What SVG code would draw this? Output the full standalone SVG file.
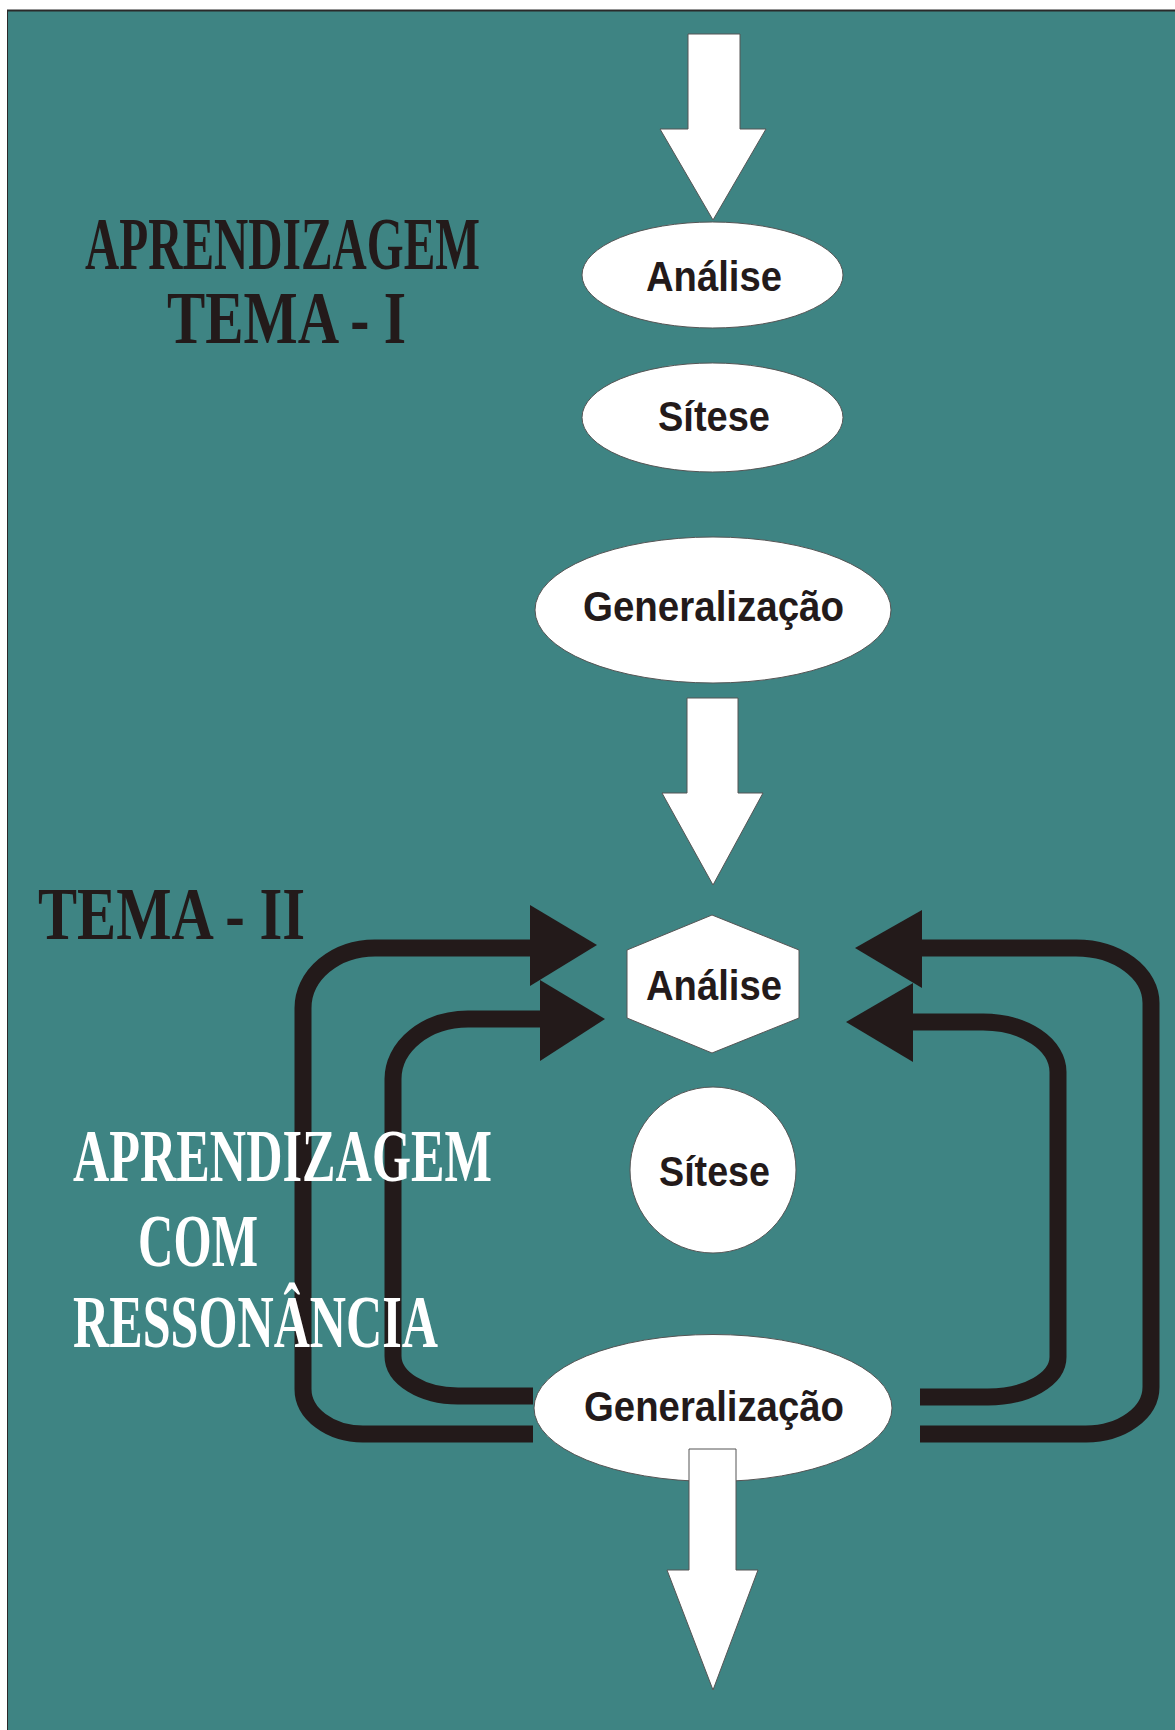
<svg xmlns="http://www.w3.org/2000/svg" width="1175" height="1730" viewBox="0 0 1175 1730">
<style>
.bg{fill:#3e8483;stroke:#2a2a2a;stroke-width:1}
.node{fill:#ffffff;stroke:#555555;stroke-width:1}
.arrow{fill:#ffffff;stroke:#555555;stroke-width:1}
.lbl{font-family:"Liberation Sans",Arial,sans-serif;font-weight:bold;font-size:43px;fill:#231a1a;text-anchor:middle}
.title{font-family:"Liberation Serif","Times New Roman",serif;font-weight:bold;font-size:75px;fill:#231a1a}
.title2{font-family:"Liberation Serif","Times New Roman",serif;font-weight:bold;font-size:75px;fill:#ffffff}
.loop{fill:none;stroke:#231a1a;stroke-width:17}
.head{fill:#231a1a}
</style>
<rect width="1175" height="1730" fill="#ffffff"/>
<rect class="bg" x="7.5" y="10.5" width="1175" height="1730"/>
<line x1="7" y1="10.5" x2="1175" y2="10.5" stroke="#2a2a2a" stroke-width="2"/>

<g id="connectors">
  <path class="loop" d="M533 1434 H363 A60 45 0 0 1 303 1389 V1008 A72 60 0 0 1 375 948 H540"/>
  <path class="loop" d="M533 1396 H458 A65 40 0 0 1 393 1356 V1079 A75 60 0 0 1 468 1019 H548"/>
  <path class="loop" d="M920 1434 H1086 A65 47 0 0 0 1151 1387 V1003 A75 55 0 0 0 1076 948 H915"/>
  <path class="loop" d="M920 1397 H988 A70 40 0 0 0 1058 1357 V1072 A75 50 0 0 0 983 1022 H905"/>
  <polygon class="head" points="530,905 530,986 597,945"/>
  <polygon class="head" points="540,980 540,1061 605,1019"/>
  <polygon class="head" points="922,910 922,988 855,948"/>
  <polygon class="head" points="913,983 913,1062 846,1022"/>
</g>

<g id="arrow-top">
  <polygon class="arrow" points="688,34 740,34 740,129 766,129 713,220 660,129 688,129"/>
</g>

<g id="analise-1">
  <ellipse class="node" cx="712.5" cy="275" rx="130.5" ry="53"/>
  <text class="lbl" x="714" y="291" textLength="136" lengthAdjust="spacingAndGlyphs">Análise</text>
</g>
<g id="sintese-1">
  <ellipse class="node" cx="712.5" cy="417.5" rx="130.5" ry="54.5"/>
  <text class="lbl" x="714" y="431" textLength="112" lengthAdjust="spacingAndGlyphs">Sítese</text>
</g>
<g id="generalizacao-1">
  <ellipse class="node" cx="713" cy="610" rx="178" ry="73"/>
  <text class="lbl" x="713.5" y="621" textLength="261" lengthAdjust="spacingAndGlyphs">Generalização</text>
</g>

<g id="arrow-mid">
  <polygon class="arrow" points="687,698 738,698 738,793 763,793 713,885 662,793 687,793"/>
</g>

<g id="analise-2">
  <polygon class="node" points="712,915 799,950 799,1018 712,1053 627,1018 627,950"/>
  <text class="lbl" x="714" y="1000" textLength="136" lengthAdjust="spacingAndGlyphs">Análise</text>
</g>
<g id="sintese-2">
  <circle class="node" cx="713" cy="1170" r="83"/>
  <text class="lbl" x="714.5" y="1186" textLength="111" lengthAdjust="spacingAndGlyphs">Sítese</text>
</g>
<g id="generalizacao-2">
  <ellipse class="node" cx="713" cy="1408" rx="179" ry="73.5"/>
  <text class="lbl" x="714" y="1421" textLength="260" lengthAdjust="spacingAndGlyphs">Generalização</text>
</g>

<g id="arrow-bottom">
  <polygon class="arrow" points="689,1449 736,1449 736,1570 758,1570 713,1690 667,1570 689,1570"/>
</g>

<g id="title-tema-1">
  <text class="title" x="85" y="269" textLength="395" lengthAdjust="spacingAndGlyphs">APRENDIZAGEM</text>
  <text class="title" x="167" y="343" textLength="239" lengthAdjust="spacingAndGlyphs">TEMA - I</text>
</g>
<g id="title-tema-2">
  <text class="title" x="38" y="939" textLength="267" lengthAdjust="spacingAndGlyphs">TEMA - II</text>
</g>
<g id="title-ressonancia">
  <text class="title2" x="73" y="1181" textLength="419" lengthAdjust="spacingAndGlyphs">APRENDIZAGEM</text>
  <text class="title2" x="138" y="1266" textLength="120" lengthAdjust="spacingAndGlyphs">COM</text>
  <text class="title2" x="73" y="1347" textLength="365" lengthAdjust="spacingAndGlyphs">RESSONÂNCIA</text>
</g>
</svg>
